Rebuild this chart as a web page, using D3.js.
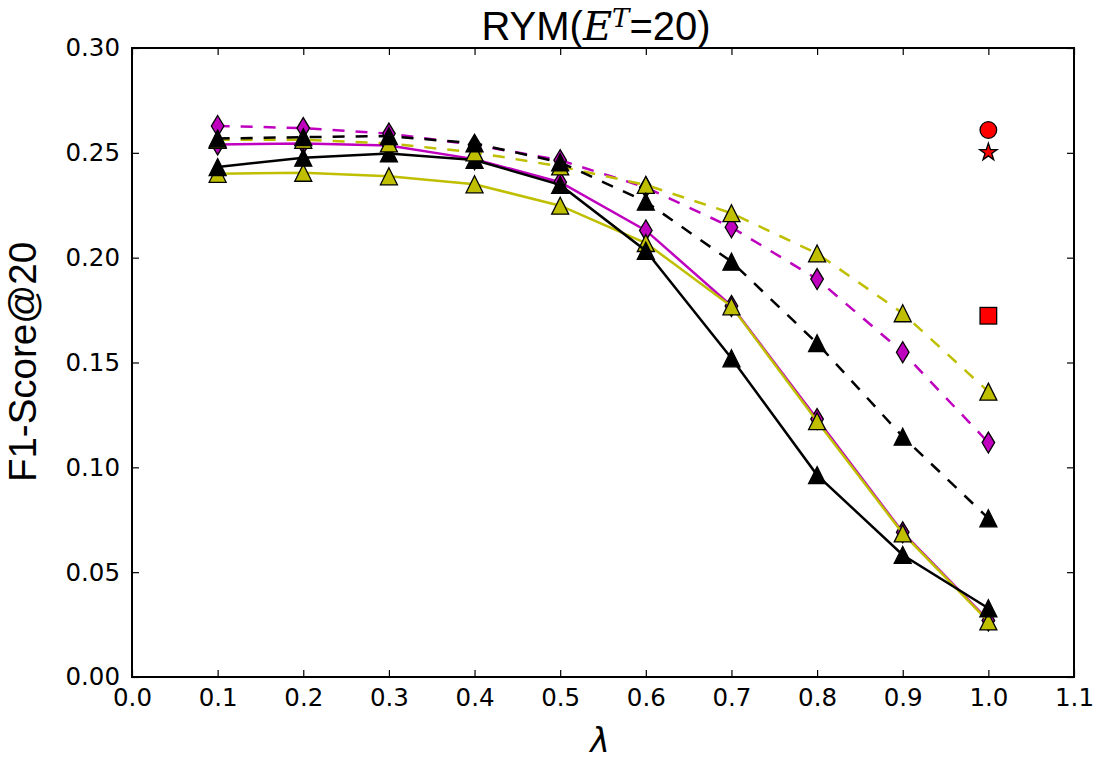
<!DOCTYPE html>
<html><head><meta charset="utf-8">
<script src="https://cdn.jsdelivr.net/npm/d3@7"></script>
<style>body{margin:0;background:#fff}</style>
</head><body>
<svg id="chart" width="1105" height="766"></svg>
<script>
const lambdas = [0.1,0.2,0.3,0.4,0.5,0.6,0.7,0.8,0.9,1.0];
const magentaSolid  = [0.2540,0.2545,0.2535,0.2470,0.2360,0.2130,0.1770,0.1230,0.0690,0.0270];
const yellowSolid   = [0.2400,0.2405,0.2388,0.2350,0.2248,0.2070,0.1768,0.1220,0.0685,0.0265];
const blackSolid    = [0.2432,0.2477,0.2497,0.2466,0.2347,0.2033,0.1520,0.0963,0.0582,0.0328];
const magentaDashed = [0.2628,0.2618,0.2592,0.2538,0.2465,0.2335,0.2145,0.1898,0.1549,0.1118];
const yellowDashed  = [0.2562,0.2562,0.2545,0.2502,0.2435,0.2347,0.2212,0.2020,0.1735,0.1361];
const blackDashed   = [0.2568,0.2575,0.2580,0.2545,0.2455,0.2267,0.1981,0.1592,0.1146,0.0757];
const refX = 1.0;
const refCircle = 0.2609, refStar = 0.2502, refSquare = 0.1723;
const xTicks = [0.0,0.1,0.2,0.3,0.4,0.5,0.6,0.7,0.8,0.9,1.0,1.1];
const yTicks = [0.00,0.05,0.10,0.15,0.20,0.25,0.30];

const svg = d3.select("#chart");
const L = 132, R = 1074, T = 48, B = 677;
const x = d3.scaleLinear().domain([0,1.1]).range([L,R]);
const y = d3.scaleLinear().domain([0,0.30]).range([B,T]);

const series = [
  {v: magentaSolid,  c:"#bf00bf", dash:null, m:"d"},
  {v: yellowSolid,   c:"#bfbf00", dash:null, m:"t"},
  {v: blackSolid,    c:"#000000", dash:null, m:"t"},
  {v: magentaDashed, c:"#bf00bf", dash:"12,11", m:"d"},
  {v: yellowDashed,  c:"#bfbf00", dash:"12,11", m:"t"},
  {v: blackDashed,   c:"#000000", dash:"12,11", m:"t"},
];
const tri = "M0,-8.5L8.5,8.5L-8.5,8.5Z";
const dia = "M0,-10.5L6.3,0L0,10.5L-6.3,0Z";
const plot = svg.append("g");
const line = d3.line().x((d,i)=>x(lambdas[i])).y(d=>y(d));
series.forEach(s=>{
  const g = plot.append("g");
  g.append("path").datum(s.v).attr("d",line).attr("fill","none").attr("stroke",s.c)
   .attr("stroke-width",2.5).attr("stroke-dasharray",s.dash);
  g.selectAll(".m").data(s.v).enter().append("path")
   .attr("transform",(d,i)=>`translate(${x(lambdas[i])},${y(d)})`)
   .attr("d", s.m==="t"?tri:dia).attr("fill",s.c).attr("stroke","#000").attr("stroke-width",1.3)
   .attr("stroke-linejoin","miter");
});
// reference markers
plot.append("circle").attr("cx",x(refX)).attr("cy",y(refCircle)).attr("r",8.3)
  .attr("fill","#ff0000").attr("stroke","#000").attr("stroke-width",1.3);
plot.append("path").attr("transform",`translate(${x(refX)},${y(refStar)})`)
  .attr("d", d3.symbol().type(d3.symbolStar).size(95)()).attr("fill","#ff0000").attr("stroke","#000").attr("stroke-width",1.3);
plot.append("rect").attr("x",x(refX)-8.3).attr("y",y(refSquare)-8.3).attr("width",16.6).attr("height",16.6)
  .attr("fill","#ff0000").attr("stroke","#000").attr("stroke-width",1.3);

// axes
const font = "'DejaVu Sans', sans-serif";
const xb = svg.append("g").attr("transform",`translate(0,${B})`)
  .call(d3.axisBottom(x).tickValues(xTicks).tickFormat(d3.format(".1f")).tickSizeInner(-7).tickSizeOuter(0).tickPadding(12));
const xt = svg.append("g").attr("transform",`translate(0,${T})`)
  .call(d3.axisTop(x).tickValues(xTicks).tickFormat("").tickSizeInner(-7).tickSizeOuter(0));
const yl = svg.append("g").attr("transform",`translate(${L},0)`)
  .call(d3.axisLeft(y).tickValues(yTicks).tickFormat(d3.format(".2f")).tickSizeInner(-7).tickSizeOuter(0).tickPadding(12));
const yr = svg.append("g").attr("transform",`translate(${R},0)`)
  .call(d3.axisRight(y).tickValues(yTicks).tickFormat("").tickSizeInner(-7).tickSizeOuter(0));
[xb,xt,yl,yr].forEach(g=>{
  g.select(".domain").remove();
  g.selectAll(".tick line").attr("stroke","#000").attr("stroke-width",1.2);
  g.selectAll(".tick text").attr("font-family",font).attr("font-size",24.5).attr("fill","#000");
});
svg.append("rect").attr("x",L).attr("y",T).attr("width",R-L).attr("height",B-T)
  .attr("fill","none").attr("stroke","#000").attr("stroke-width",2);

// title
const title = svg.append("text").attr("x",596).attr("y",40).attr("text-anchor","middle")
  .attr("font-family","'Liberation Sans', Arial, sans-serif").attr("font-size",40);
title.append("tspan").text("RYM(");
title.append("tspan").attr("font-family","'DejaVu Serif', serif").attr("font-style","italic").text("E");
title.append("tspan").attr("font-family","'DejaVu Serif', serif").attr("font-style","italic").attr("font-size",26).attr("dy",-13).text("T");
title.append("tspan").attr("dy",13).text("=20)");

svg.append("text").attr("transform",`translate(36,362) rotate(-90)`).attr("text-anchor","middle")
  .attr("font-family","'Liberation Sans', Arial, sans-serif").attr("font-size",38.5).text("F1-Score@20");
svg.append("text").attr("x",600).attr("y",752).attr("text-anchor","middle")
  .attr("font-family",font).attr("font-style","italic").attr("font-size",33).text("λ");
</script>
</body></html>
